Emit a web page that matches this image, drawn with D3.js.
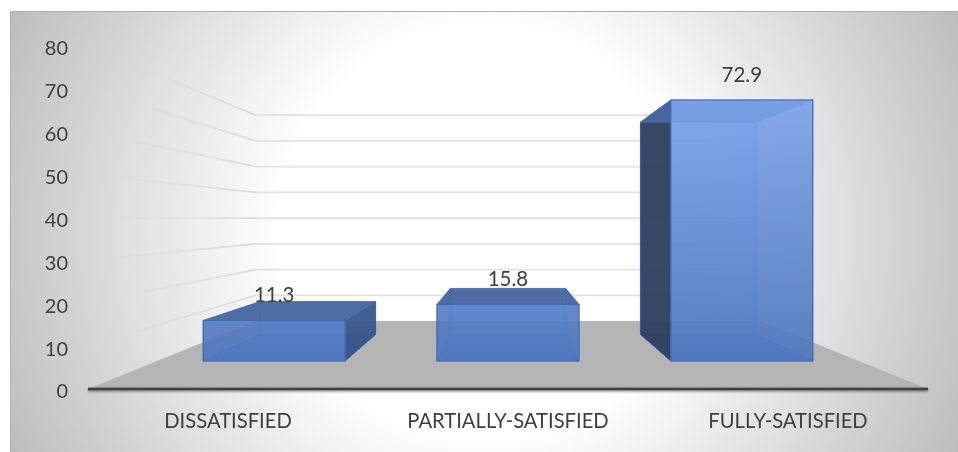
<!DOCTYPE html>
<html>
<head>
<meta charset="utf-8">
<script src="https://cdn.jsdelivr.net/npm/d3@7"></script>
<style>
  html, body { margin: 0; padding: 0; background: #fff; }
  svg { display: block; }
  text { font-family: Lato, "Open Sans", sans-serif; fill: #404040; }
</style>
</head>
<body>
<script>
const categories = ['DISSATISFIED', 'PARTIALLY-SATISFIED', 'FULLY-SATISFIED'];
const values = [11.3, 15.8, 72.9];
const yTicks = [0, 10, 20, 30, 40, 50, 60, 70, 80];

const width = 958, height = 452;

// 3d projection: everything is laid out on the front plane, then pulled
// towards the vanishing point by a depth factor
const vanish = [508, 219];
const depth = { front: 1, back: 0.6, barFront: 0.835, barBack: 0.679 };

const x = d3.scaleBand()
  .domain(categories)
  .range([88, 928])
  .paddingInner(0.393)
  .paddingOuter(0.1965);

const y = d3.scaleLinear()
  .domain([0, 80])
  .range([389, 46]);

function project(px, py, s) {
  return [vanish[0] + (px - vanish[0]) * s, vanish[1] + (py - vanish[1]) * s];
}

const line = d3.line();

const root = d3.select('body')
  .append('svg')
  .attr('width', width)
  .attr('height', height);

const defs = root.append('defs');

const bg = defs.append('radialGradient')
  .attr('id', 'bg')
  .attr('gradientUnits', 'userSpaceOnUse')
  .attr('cx', 484).attr('cy', 232).attr('r', 523);
bg.append('stop').attr('offset', 0.39).attr('stop-color', '#fff');
bg.append('stop').attr('offset', 1).attr('stop-color', '#bdbdbd');

const fade = defs.append('linearGradient')
  .attr('id', 'fade')
  .attr('gradientUnits', 'userSpaceOnUse')
  .attr('x1', 256).attr('x2', 88).attr('y1', 0).attr('y2', 0);
fade.append('stop').attr('offset', 0).attr('stop-color', '#dadada');
fade.append('stop').attr('offset', 1).attr('stop-color', '#dadada').attr('stop-opacity', 0.15);

const face = defs.append('linearGradient')
  .attr('id', 'face')
  .attr('gradientUnits', 'userSpaceOnUse')
  .attr('x1', 0).attr('x2', 0).attr('y1', 100).attr('y2', 361);
face.append('stop').attr('offset', 0).attr('stop-color', '#7ea5ec');
face.append('stop').attr('offset', 1).attr('stop-color', '#4d76bf');

const shadow = defs.append('filter').attr('id', 'soft')
  .attr('filterUnits', 'userSpaceOnUse')
  .attr('x', 0).attr('y', 370).attr('width', width).attr('height', 40);
shadow.append('feGaussianBlur').attr('stdDeviation', 0.8);

// the whole picture is a little soft
defs.append('filter').attr('id', 'photo')
  .attr('filterUnits', 'userSpaceOnUse')
  .attr('x', 0).attr('y', 0).attr('width', width).attr('height', height)
  .append('feGaussianBlur').attr('stdDeviation', 0.35);

const svg = root.append('g').attr('filter', 'url(#photo)');

// panel
svg.append('rect')
  .attr('x', 10.5).attr('y', 11.5)
  .attr('width', width).attr('height', height)
  .attr('fill', 'url(#bg)')
  .attr('stroke', '#b0b0b0');

// floor
svg.append('path')
  .attr('d', line([
    project(x.range()[0], y(0), depth.front),
    project(x.range()[1], y(0), depth.front),
    project(x.range()[1], y(0), depth.back),
    project(x.range()[0], y(0), depth.back)
  ]) + 'Z')
  .attr('fill', '#b5b5b5');

// gridlines, back wall and fading left wall
const grid = svg.append('g');
yTicks.filter(d => d > 0).forEach(d => {
  grid.append('path')
    .attr('d', line([project(x.range()[0], y(d), depth.back), project(x.range()[1], y(d), depth.back)]))
    .attr('fill', 'none')
    .attr('stroke', '#e2e2e2')
    .attr('stroke-width', 1.7);
  grid.append('path')
    .attr('d', line([project(x.range()[0], y(d), depth.back), project(x.range()[0], y(d), depth.front)]))
    .attr('fill', 'none')
    .attr('stroke', 'url(#fade)')
    .attr('stroke-width', 1.7);
});

// bars
function drawBar(cat, val) {
  const x0 = x(cat), x1 = x(cat) + x.bandwidth();
  const yb = y(0), yt = y(val);
  const f = depth.barFront, b = depth.barBack;
  const g = svg.append('g').attr('stroke-linejoin', 'round');

  const faces = [
    // back
    { pts: [[x0, yb, b], [x1, yb, b], [x1, yt, b], [x0, yt, b]], fill: '#5f86d2', op: 0.55, stroke: '#4a70bb' },
    // floor of the bar
    { pts: [[x0, yb, f], [x1, yb, f], [x1, yb, b], [x0, yb, b]], fill: '#4a70b8', op: 0.7, stroke: '#4a70bb' },
    // left side
    { pts: [[x0, yb, f], [x0, yt, f], [x0, yt, b], [x0, yb, b]], fill: '#323f5e', op: x0 > vanish[0] ? 0.95 : 0.25, stroke: '#2f5aa8' },
    // right side
    { pts: [[x1, yb, f], [x1, yt, f], [x1, yt, b], [x1, yb, b]], fill: x1 < vanish[0] ? '#3a5689' : '#4f76bf', op: x1 < vanish[0] ? 0.93 : 0.35, stroke: '#2f5aa8' },
    // top
    { pts: [[x0, yt, f], [x1, yt, f], [x1, yt, b], [x0, yt, b]], fill: '#4a689f', op: 0.95, stroke: '#4a70bb' }
  ];

  faces.forEach(d => {
    g.append('path')
      .attr('d', line(d.pts.map(p => project(p[0], p[1], p[2]))) + 'Z')
      .attr('fill', d.fill)
      .attr('fill-opacity', d.op)
      .attr('stroke', d.stroke)
      .attr('stroke-opacity', 0.6);
  });

  // front face sits over everything, slightly see through
  g.append('path')
    .attr('d', line([[x0, yb], [x1, yb], [x1, yt], [x0, yt]].map(p => project(p[0], p[1], f))) + 'Z')
    .attr('fill', 'url(#face)')
    .attr('fill-opacity', 0.88)
    .attr('stroke', '#3f68b4')
    .attr('stroke-width', 1.1);
}
categories.forEach((c, i) => drawBar(c, values[i]));

// axis line
svg.append('path')
  .attr('d', line([[x.range()[0], y(0) + 1], [x.range()[1], y(0) + 1]]))
  .attr('stroke', '#000')
  .attr('stroke-opacity', 0.35)
  .attr('stroke-width', 4)
  .attr('filter', 'url(#soft)');
svg.append('path')
  .attr('d', line([[x.range()[0], y(0)], [x.range()[1], y(0)]]))
  .attr('stroke', '#404040')
  .attr('stroke-width', 2.6);

// value axis labels
const yAxis = d3.axisLeft(y).tickValues(yTicks).tickSize(0).tickPadding(0);
svg.append('g')
  .attr('transform', 'translate(68,2.5)')
  .call(yAxis)
  .call(g => g.select('.domain').remove())
  .selectAll('text')
  .style('font-family', 'Lato, "Open Sans", sans-serif')
  .style('font-size', '20px')
  .style('fill', '#404040');

// category labels
const xAxis = d3.axisBottom(x).tickSize(0).tickPadding(0);
svg.append('g')
  .attr('transform', 'translate(0,414)')
  .call(xAxis)
  .call(g => g.select('.domain').remove())
  .selectAll('text')
  .style('font-family', 'Lato, "Open Sans", sans-serif')
  .style('font-size', '20.2px')
  .style('fill', '#404040');

// data labels
svg.append('g')
  .selectAll('text')
  .data(values)
  .join('text')
  .attr('x', (d, i) => project(x(categories[i]) + x.bandwidth() / 2, y(d), depth.barFront)[0])
  .attr('y', d => project(0, y(d), depth.barFront)[1] - 18)
  .attr('text-anchor', 'middle')
  .style('font-size', '20.5px')
  .text(d => d);
</script>
</body>
</html>
